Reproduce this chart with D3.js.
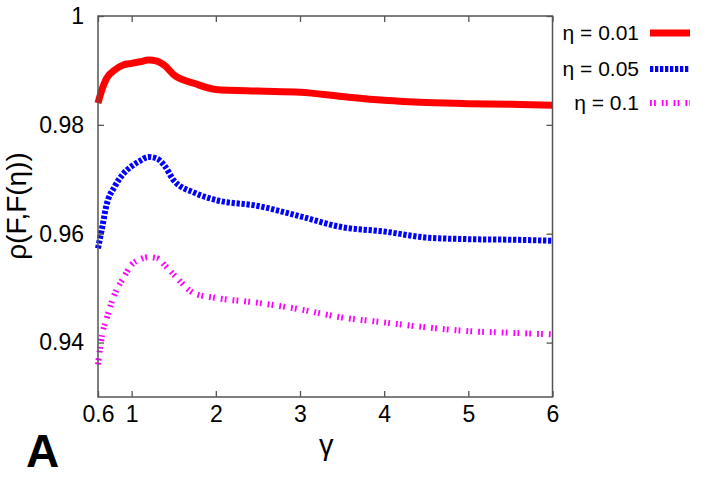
<!DOCTYPE html>
<html>
<head>
<meta charset="utf-8">
<script src="https://cdn.jsdelivr.net/npm/d3@7"></script>
<style>
  body { margin: 0; background: #fff; }
  text { font-family: "Liberation Sans", Arial, sans-serif; }
</style>
</head>
<body>
<div id="chart"></div>
<script>
// gamma grid shared by the three curves
var gamma = [0.6, 0.65, 0.7, 0.8, 0.9, 1.0, 1.1, 1.2, 1.3, 1.4, 1.5, 1.75, 2, 2.5, 3, 3.5, 4, 4.5, 5, 5.5, 6];

var rho001 = [0.9840, 0.9866, 0.9885, 0.9901, 0.9910, 0.9913, 0.9916, 0.9919, 0.9917, 0.9908, 0.9892,
              0.9876, 0.9865, 0.9862, 0.9860, 0.9852, 0.9845, 0.9841, 0.9839, 0.9838, 0.9836];
var rho005 = [0.9573, 0.9612, 0.9652, 0.9687, 0.9710, 0.9724, 0.9734, 0.9741, 0.9738, 0.9723, 0.9698,
              0.9675, 0.9662, 0.9651, 0.9632, 0.9612, 0.9604, 0.9593, 0.9590, 0.9589, 0.9587];
var rho01  = [0.9360, 0.9415, 0.9443, 0.9490, 0.9518, 0.9543, 0.9553, 0.9557, 0.9555, 0.9541, 0.9525,
              0.9490, 0.9482, 0.9473, 0.9461, 0.9446, 0.9437, 0.9428, 0.9421, 0.9418, 0.9415];

var seriesNames = ["\u03b7 = 0.01", "\u03b7 = 0.05", "\u03b7 = 0.1"];
var xTicks = [0.6, 1, 2, 3, 4, 5, 6];
var yTicks = [0.94, 0.96, 0.98, 1];

var width = 706, height = 494;
var plotL = 98, plotR = 552.5, plotT = 16, plotB = 397;

var x = d3.scaleLinear().domain([0.6, 6]).range([plotL, plotR]);
var y = d3.scaleLinear().domain([0.93, 1]).range([plotB, plotT]);

var svg = d3.select("#chart").append("svg")
    .attr("width", width)
    .attr("height", height);

var styles = [
  {color: "#ff0000", w: 7, dash: null},
  {color: "#0000ff", w: 6, dash: "3.3,1.7"},
  {color: "#ff00ff", w: 6, dash: "1.8,2.2,1.8,6"}
];

var series = [rho001, rho005, rho01].map(function(vals, i) {
  return {name: seriesNames[i], style: styles[i],
          points: vals.map(function(v, j) { return [gamma[j], v]; })};
});

var line = d3.line()
    .curve(d3.curveMonotoneX)
    .x(function(d) { return x(d[0]); })
    .y(function(d) { return y(d[1]); });

// curves
svg.append("g").selectAll("path")
    .data(series)
  .enter().append("path")
    .attr("d", function(d) { return line(d.points); })
    .attr("fill", "none")
    .attr("stroke", function(d) { return d.style.color; })
    .attr("stroke-width", function(d) { return d.style.w; })
    .attr("stroke-dasharray", function(d) { return d.style.dash; });

// axes, ticks pointing inward on all four sides
var axisColor = "#555";
function styleAxis(g) {
  g.select(".domain").remove();
  g.selectAll(".tick line").attr("stroke", axisColor).attr("stroke-width", 1.3);
  g.selectAll(".tick text").attr("fill", "#000").style("font-size", "23px");
}

svg.append("g")
    .attr("transform", "translate(0," + plotB + ")")
    .call(d3.axisBottom(x).tickValues(xTicks).tickFormat(d3.format("")).tickSizeInner(-6).tickPadding(9))
    .call(styleAxis);

svg.append("g")
    .attr("transform", "translate(0," + plotT + ")")
    .call(d3.axisTop(x).tickValues(xTicks).tickFormat("").tickSizeInner(-6))
    .call(styleAxis);

svg.append("g")
    .attr("transform", "translate(" + plotL + ",0)")
    .call(d3.axisLeft(y).tickValues(yTicks).tickFormat(d3.format("")).tickSizeInner(-6).tickPadding(14))
    .call(styleAxis);

svg.append("g")
    .attr("transform", "translate(" + plotR + ",0)")
    .call(d3.axisRight(y).tickValues(yTicks).tickFormat("").tickSizeInner(-6))
    .call(styleAxis);

svg.append("rect")
    .attr("x", plotL).attr("y", plotT)
    .attr("width", plotR - plotL).attr("height", plotB - plotT)
    .attr("fill", "none")
    .attr("stroke", axisColor)
    .attr("stroke-width", 1.5);

// axis titles
svg.append("text")
    .attr("x", (plotL + plotR) / 2 + 1)
    .attr("y", 455)
    .attr("text-anchor", "middle")
    .style("font-size", "29px")
    .text("\u03b3");

svg.append("text")
    .attr("transform", "translate(26," + 206 + ")rotate(-90)")
    .attr("text-anchor", "middle")
    .style("font-size", "28px")
    .text("\u03c1(F,F(\u03b7))");

svg.append("text")
    .attr("x", 26)
    .attr("y", 467)
    .style("font-size", "46px")
    .style("font-weight", "bold")
    .text("A");

// legend
var legend = svg.append("g").selectAll("g")
    .data(series)
  .enter().append("g")
    .attr("transform", function(d, i) { return "translate(0," + [33, 69, 103][i] + ")"; });

legend.append("text")
    .attr("x", 639)
    .attr("dy", "0.35em")
    .attr("text-anchor", "end")
    .style("font-size", "21px")
    .text(function(d) { return d.name; });

legend.append("line")
    .attr("x1", 650).attr("x2", 690)
    .attr("stroke", function(d) { return d.style.color; })
    .attr("stroke-width", function(d) { return d.style.w; })
    .attr("stroke-dasharray", function(d) { return d.style.dash; });
</script>
</body>
</html>
